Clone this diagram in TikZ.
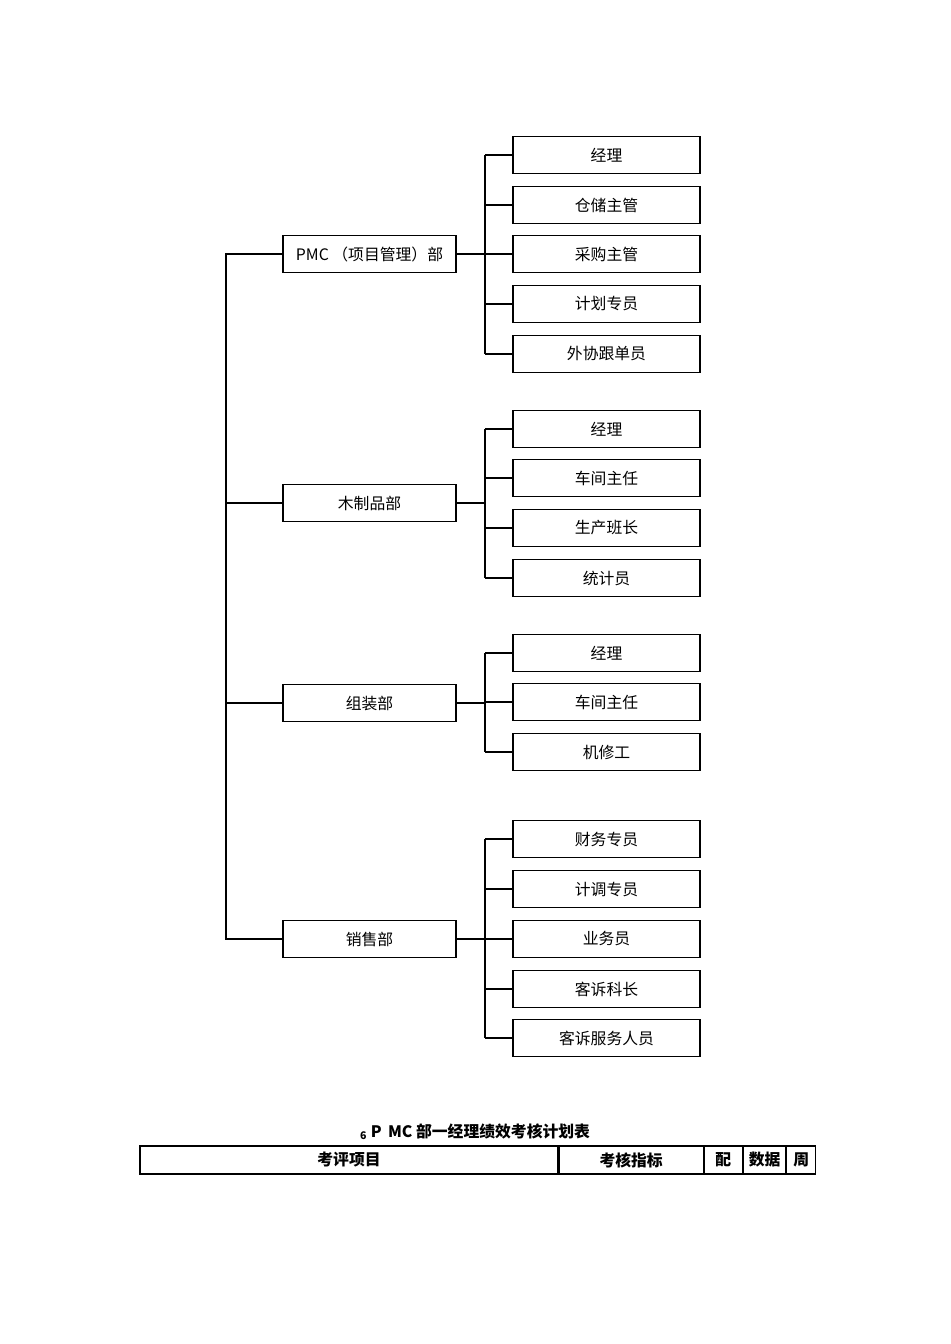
\documentclass[tikz,border=0pt]{standalone}
\usepackage{fontspec}
\setmainfont{Liberation Serif}
\newfontfamily\cjk{Noto Sans CJK SC}
\tikzset{
	dept/.style={
		rectangle,
		draw,
		font=\cjk\small,
		minimum width=3.46cm,
		minimum height=0.74cm,
		inner sep=0pt,
	},
	post/.style={
		rectangle,
		draw,
		font=\cjk\small,
		minimum width=3.74cm,
		minimum height=0.74cm,
		inner sep=0pt,
	},
	cell/.style={
		rectangle,
		draw,
		font=\cjk\bfseries\small,
		minimum height=0.56cm,
		inner sep=0pt,
	},
}
\begin{document}
\begin{tikzpicture}[x=0.02cm, y=-0.02cm, line width=0.7pt]
		\useasboundingbox (0,0) rectangle (950,1344);
		% Departments
		\node [dept] (pmc) at (369.5,254) {PMC （项目管理）部};
		\node [dept] (wood) at (369.5,503) {木制品部};
		\node [dept] (asm) at (369.5,703) {组装部};
		\node [dept] (sale) at (369.5,939) {销售部};
		\coordinate (top) at (226,254);
		\coordinate (bot) at (226,939);
		\draw (pmc.west) -- (top) -- (bot) -- (sale.west);
		\draw (wood.west) -- (226,503);
		\draw (asm.west) -- (226,703);
		
		% Posts
		\foreach \dep/\yd/\list in {%
			pmc/254/{155/经理,205/仓储主管,254/采购主管,304/计划专员,354/外协跟单员},
			wood/503/{429/经理,478/车间主任,528/生产班长,578/统计员},
			asm/703/{653/经理,702/车间主任,752/机修工},
			sale/939/{839/财务专员,889/计调专员,939/业务员,989/客诉科长,1038/客诉服务人员}}{
			\coordinate (\dep-bus) at (485,\yd);
			\draw [line width=1.2pt] (\dep.east) -- (\dep-bus);
			\foreach \y/\txt [count=\i] in \list {
				\node [post] (\dep-\i) at (606.5,\y) {\txt};
				\coordinate (\dep-b\i) at (485,\y);
				\draw (\dep-b\i) -- (\dep-\i.west);
			}
			\draw (\dep-b1) -- (\dep-bus);
		}
		\draw (pmc-b1) -- (pmc-b5);
		\draw (wood-b1) -- (wood-b4);
		\draw (asm-b1) -- (asm-b3);
		\draw (sale-b1) -- (sale-b5);
		
		% Table
		\node [font=\cjk\bfseries\small] (title) at (475,1132) {\textsubscript{6} P\, MC 部一经理绩效考核计划表};
		\node [cell, minimum width=8.36cm] (c1) at (349,1160) {考评项目};
		\node [cell, minimum width=2.88cm, anchor=west] (c2) at (c1.east) {考核指标};
		\node [cell, minimum width=0.76cm, anchor=west] (c3) at (c2.east) {配};
		\node [cell, minimum width=0.84cm, anchor=west] (c4) at (c3.east) {数据};
		\node [cell, minimum width=0.58cm, anchor=west] (c5) at (c4.east) {周};
	\end{tikzpicture}
\end{document}
